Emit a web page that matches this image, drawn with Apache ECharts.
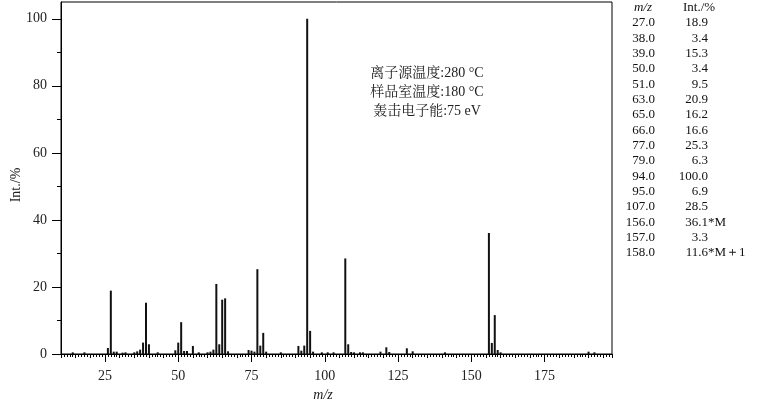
<!DOCTYPE html>
<html>
<head>
<meta charset="utf-8">
<script src="https://cdn.jsdelivr.net/npm/echarts@6/dist/echarts.min.js"></script>
<style>
html,body{margin:0;padding:0;background:#fff;}
#chart{width:764px;height:401px;}
</style>
</head>
<body>
<div id="chart"></div>
<script>
// Peaks: m/z and relative intensity (%)
var peakMz = [14, 18, 26, 27, 28, 29, 31, 32, 35, 36, 37, 38, 39, 40, 43, 49, 50, 51, 52, 53, 55, 57, 60, 61, 62, 63, 64, 65, 66, 67, 74, 75, 76, 77, 78, 79, 80, 85, 91, 92, 93, 94, 95, 96, 99, 101, 103, 107, 108, 109, 110, 112, 113, 119, 121, 122, 128, 130, 141, 156, 157, 158, 159, 160, 190, 192];
var peakInt = [0.5, 0.5, 1.8, 18.9, 0.7, 0.7, 0.4, 0.5, 0.5, 0.8, 1.3, 3.4, 15.3, 2.9, 0.5, 1.1, 3.4, 9.5, 0.9, 0.9, 2.4, 0.5, 0.5, 0.7, 1.3, 20.9, 2.9, 16.2, 16.6, 0.8, 1.2, 1.0, 0.7, 25.3, 2.5, 6.3, 0.7, 0.5, 2.4, 1.0, 2.5, 100.0, 6.9, 0.7, 0.5, 0.5, 0.5, 28.5, 2.9, 0.6, 0.5, 0.5, 0.5, 0.7, 2.0, 0.6, 1.7, 0.8, 0.5, 36.1, 3.3, 11.6, 1.2, 0.5, 0.7, 0.5];

// Axis ticks / labels
var xLabelValues = [25, 50, 75, 100, 125, 150, 175];
var yLabelValues = [0, 20, 40, 60, 80, 100];
var yMinorTickValues = [10, 30, 50, 70, 90];

// Conditions text
var conditionLines = ['离子源温度:280 °C', '样品室温度:180 °C', '轰击电子能:75 eV'];

// Table on the right
var tableHeaderMz = 'm/z';
var tableHeaderInt = 'Int./%';
var tableMz = ['27.0', '38.0', '39.0', '50.0', '51.0', '63.0', '65.0', '66.0', '77.0', '79.0', '94.0', '95.0', '107.0', '156.0', '157.0', '158.0'];
var tableIntNum = ['18.9', '3.4', '15.3', '3.4', '9.5', '20.9', '16.2', '16.6', '25.3', '6.3', '100.0', '6.9', '28.5', '36.1', '3.3', '11.6'];
var tableIntSuffix = ['', '', '', '', '', '', '', '', '', '', '', '', '', '*M', '', '*M＋1'];

var serif = '"Liberation Serif", "Times New Roman", serif';
var cjk = '"Liberation Serif", "Noto Serif CJK SC", "Noto Sans CJK SC", serif';

var data = peakMz.map(function (m, i) { return [m, peakInt[i]]; });

var gridTop = 2, gridBottom = 47, gridLeft = 61, gridRight = 152;
var gridH = 401 - gridTop - gridBottom;
var gridW = 764 - gridLeft - gridRight;

var tFont = '13px ' + serif;
var graphics = [];
conditionLines.forEach(function (t, i) {
  graphics.push({
    type: 'text', x: 427, y: 73 + i * 19.3,
    style: { text: t, font: '14px ' + cjk, fill: '#222', textAlign: 'center', textVerticalAlign: 'middle' }
  });
});
graphics.push({
  type: 'text', x: 643, y: 8,
  style: { text: tableHeaderMz, font: 'italic ' + tFont, fill: '#111', textAlign: 'center', textVerticalAlign: 'middle' }
});
graphics.push({
  type: 'text', x: 683, y: 8,
  style: { text: tableHeaderInt, font: tFont, fill: '#111', textAlign: 'left', textVerticalAlign: 'middle' }
});
tableMz.forEach(function (t, i) {
  var yy = 23 + i * 15.33;
  graphics.push({
    type: 'text', x: 655, y: yy,
    style: { text: t, font: tFont, fill: '#111', textAlign: 'right', textVerticalAlign: 'middle' }
  });
  graphics.push({
    type: 'text', x: 708, y: yy,
    style: { text: tableIntNum[i], font: tFont, fill: '#111', textAlign: 'right', textVerticalAlign: 'middle' }
  });
  if (tableIntSuffix[i]) {
    graphics.push({
      type: 'text', x: 708, y: yy,
      style: { text: tableIntSuffix[i], font: tFont, fill: '#111', textAlign: 'left', textVerticalAlign: 'middle' }
    });
  }
});
graphics.push({
  type: 'text', x: 323, y: 395,
  style: { text: 'm/z', font: 'italic 14px ' + serif, fill: '#222', textAlign: 'center', textVerticalAlign: 'middle' }
});
graphics.push({
  type: 'text', x: 16, y: 185, rotation: Math.PI / 2,
  style: { text: 'Int./%', font: '14px ' + serif, fill: '#222', textAlign: 'center', textVerticalAlign: 'middle' }
});

var chart = echarts.init(document.getElementById('chart'), null, { renderer: 'canvas' });
chart.setOption({
  animation: false,
  backgroundColor: '#fff',
  grid: {
    left: gridLeft, right: gridRight, top: gridTop, bottom: gridBottom,
    show: true, borderColor: '#000', borderWidth: 1, backgroundColor: 'transparent',
    containLabel: false
  },
  xAxis: [{
    type: 'value', min: 10, max: 198, interval: 5,
    axisLine: { show: true, onZero: false, lineStyle: { color: '#000', width: 1 } },
    axisTick: { show: true, length: 4, lineStyle: { color: '#000' } },
    minorTick: { show: true, splitNumber: 5, length: 3, lineStyle: { color: '#000' } },
    splitLine: { show: false },
    minorSplitLine: { show: false },
    axisLabel: { customValues: xLabelValues, margin: 15, fontSize: 14, fontFamily: serif, color: '#222' }
  }, {
    type: 'value', min: 10, max: 198, position: 'top', offset: -gridH,
    axisLine: { show: false },
    axisTick: { show: true, inside: true, length: 8, customValues: xLabelValues, lineStyle: { color: '#000' } },
    splitLine: { show: false },
    axisLabel: { show: false }
  }],
  yAxis: [{
    type: 'value', min: 0, max: 105,
    axisLine: { show: true, lineStyle: { color: '#000', width: 1 } },
    axisTick: { show: true, length: 9, customValues: yLabelValues, lineStyle: { color: '#000' } },
    splitLine: { show: false },
    axisLabel: { customValues: yLabelValues, margin: 14, fontSize: 14, fontFamily: serif, color: '#222' }
  }, {
    type: 'value', min: 0, max: 105, position: 'right', offset: -gridW,
    axisLine: { show: false },
    axisTick: { show: true, inside: true, length: 4, customValues: yMinorTickValues, lineStyle: { color: '#000' } },
    splitLine: { show: false },
    axisLabel: { show: false }
  }],
  series: [{
    type: 'bar', xAxisIndex: 0, yAxisIndex: 0,
    data: data, barWidth: 2,
    itemStyle: { color: '#111' },
    silent: true
  }],
  graphic: graphics
});
</script>
</body>
</html>
